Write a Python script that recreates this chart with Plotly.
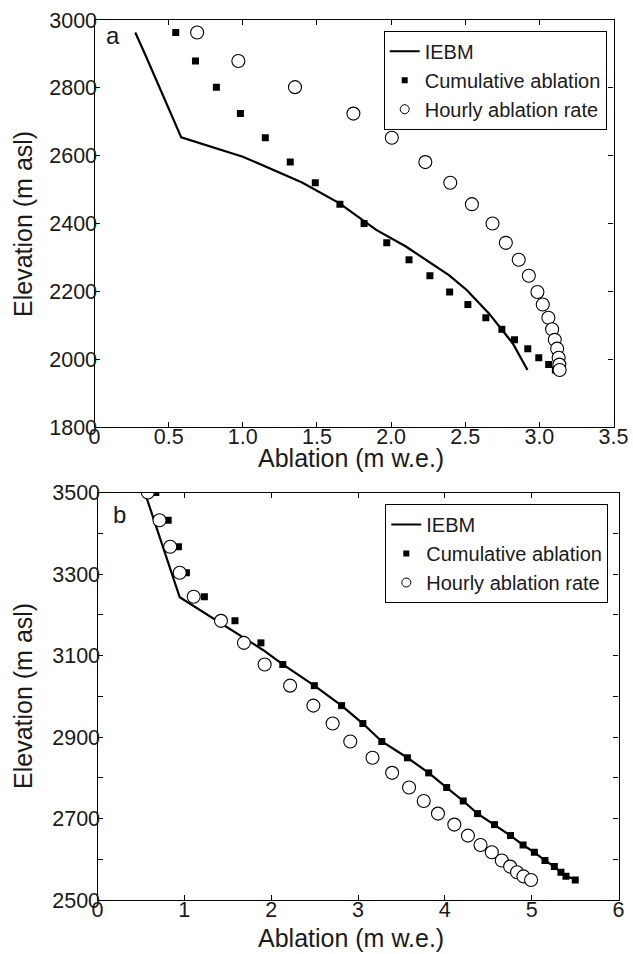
import plotly.graph_objects as go

# ---------------- Data ----------------
# Panel a
elev_a = [2963, 2879, 2802, 2724, 2653, 2581, 2520, 2457, 2400, 2343, 2293,
          2246, 2198, 2161, 2122, 2088, 2057, 2031, 2004, 1984, 1968]
cum_a = [0.548, 0.681, 0.822, 0.984, 1.152, 1.320, 1.489, 1.655, 1.818, 1.971, 2.121,
         2.262, 2.395, 2.518, 2.639, 2.747, 2.832, 2.922, 2.996, 3.063, 3.108]
hourly_a = [0.692, 0.970, 1.352, 1.746, 2.005, 2.231, 2.399, 2.545, 2.684, 2.774, 2.861,
            2.929, 2.987, 3.023, 3.061, 3.086, 3.104, 3.120, 3.130, 3.135, 3.137]
iebm_a_x = [0.275, 0.338, 0.585, 1.00, 1.40, 1.65, 1.90, 2.10, 2.39, 2.51, 2.66, 2.82, 2.92]
iebm_a_elev = [2963, 2902, 2654, 2597, 2521, 2460, 2381, 2332, 2248, 2204, 2135, 2047, 1968]

# Panel b
elev_b = [3500, 3432, 3367, 3303, 3244, 3185, 3131, 3078, 3026, 2977, 2933, 2889, 2849,
          2812, 2776, 2743, 2712, 2685, 2658, 2635, 2617, 2597, 2582, 2568, 2558, 2549]
cum_b = [0.672, 0.814, 0.932, 1.024, 1.231, 1.583, 1.882, 2.134, 2.497, 2.811, 3.056, 3.274, 3.569,
         3.814, 4.021, 4.212, 4.377, 4.572, 4.756, 4.901, 5.031, 5.153, 5.261, 5.337, 5.395, 5.502]
hourly_b = [0.580, 0.714, 0.837, 0.947, 1.108, 1.422, 1.686, 1.925, 2.218, 2.486, 2.708, 2.911, 3.167,
            3.393, 3.588, 3.757, 3.921, 4.109, 4.266, 4.411, 4.541, 4.656, 4.752, 4.832, 4.905, 4.993]
iebm_b_x = [0.545, 0.947, 1.91, 2.134, 2.497, 2.811, 3.056, 3.274, 3.569, 3.814, 4.021,
            4.212, 4.377, 4.572, 4.756, 4.901, 5.031, 5.153, 5.261, 5.337, 5.395, 5.528]
iebm_b_elev = [3500, 3243, 3113, 3078, 3026, 2977, 2933, 2889, 2849, 2812, 2776,
               2743, 2712, 2685, 2658, 2635, 2617, 2597, 2582, 2568, 2558, 2549]

series_names = ["IEBM", "Cumulative ablation", "Hourly ablation rate"]
x_title = "Ablation (m w.e.)"
y_title = "Elevation (m asl)"
panel_labels = ["a", "b"]

xt_a_vals = [0, 0.5, 1.0, 1.5, 2.0, 2.5, 3.0, 3.5]
xt_a_text = ["0", "0.5", "1.0", "1.5", "2.0", "2.5", "3.0", "3.5"]
yt_a_vals = [1800, 2000, 2200, 2400, 2600, 2800, 3000]
xt_b_vals = [0, 1, 2, 3, 4, 5, 6]
yt_b_vals = list(range(2500, 3501, 100))
yt_b_text = [str(v) if (v - 2500) % 200 == 0 else "" for v in yt_b_vals]

# ---------------- Figure ----------------
W, H = 633, 954
FONT = "Liberation Sans, Arial, Helvetica, sans-serif"
TXT = "#1a1a1a"

fig = go.Figure()

def add_panel(xs_line, ys_line, cum, hourly, elev, xa, ya, leg):
    fig.add_trace(go.Scatter(x=xs_line, y=ys_line, mode="lines",
                             line=dict(color="black", width=2.2),
                             xaxis=xa, yaxis=ya, showlegend=False, name=series_names[0]))
    fig.add_trace(go.Scatter(x=cum, y=elev, mode="markers",
                             marker=dict(symbol="square", size=7, color="black"),
                             xaxis=xa, yaxis=ya, showlegend=False, name=series_names[1]))
    fig.add_trace(go.Scatter(x=hourly, y=elev, mode="markers",
                             marker=dict(symbol="circle", size=13, color="white",
                                         line=dict(color="black", width=1.1)),
                             xaxis=xa, yaxis=ya, showlegend=False, name=series_names[2]))
    # legend entries (smaller legend symbols, as in the reference)
    fig.add_trace(go.Scatter(x=[None], y=[None], mode="lines",
                             line=dict(color="black", width=2), name=series_names[0],
                             xaxis=xa, yaxis=ya, legend=leg))
    fig.add_trace(go.Scatter(x=[None], y=[None], mode="markers",
                             marker=dict(symbol="square", size=6, color="black"),
                             name=series_names[1], xaxis=xa, yaxis=ya, legend=leg))
    fig.add_trace(go.Scatter(x=[None], y=[None], mode="markers",
                             marker=dict(symbol="circle", size=9, color="white",
                                         line=dict(color="black", width=1)),
                             name=series_names[2], xaxis=xa, yaxis=ya, legend=leg))

add_panel(iebm_a_x, iebm_a_elev, cum_a, hourly_a, elev_a, "x", "y", "legend")
add_panel(iebm_b_x, iebm_b_elev, cum_b, hourly_b, elev_b, "x2", "y2", "legend2")

axis_common = dict(showline=True, linecolor="black", linewidth=1.2, mirror="ticks",
                   ticks="inside", ticklen=5, tickwidth=1, tickcolor="black",
                   showgrid=False, zeroline=False,
                   tickfont=dict(family=FONT, size=21.5, color=TXT),
                   automargin=False)
x_common = dict(axis_common, ticklabelstandoff=-10)
y_common = dict(axis_common, ticklabelstandoff=-8)

legend_common = dict(font=dict(family=FONT, size=20, color=TXT),
                     bordercolor="black", borderwidth=1, bgcolor="white",
                     xanchor="right", yanchor="top", tracegroupgap=0)

def ann(text, x, y, angle=0, size=25):
    return dict(text=text, xref="paper", yref="paper", x=x / W, y=1 - y / H,
                showarrow=False, textangle=angle,
                font=dict(family=FONT, size=size, color=TXT),
                xanchor="center", yanchor="middle")

fig.update_layout(
    width=W, height=H,
    margin=dict(l=0, r=0, t=0, b=0),
    paper_bgcolor="white", plot_bgcolor="white",
    xaxis=dict(x_common, domain=[94.5 / W, 613.5 / W], range=[0, 3.5],
               tickvals=xt_a_vals, ticktext=xt_a_text, anchor="y"),
    yaxis=dict(y_common, domain=[1 - 427 / H, 1 - 20 / H], range=[1800, 3000],
               tickvals=yt_a_vals, anchor="x"),
    xaxis2=dict(x_common, domain=[97.5 / W, 618.5 / W], range=[0, 6],
                tickvals=xt_b_vals, anchor="y2"),
    yaxis2=dict(y_common, domain=[1 - 900 / H, 1 - 492.5 / H], range=[2500, 3500],
                tickvals=yt_b_vals, ticktext=yt_b_text, anchor="x2"),
    legend=dict(legend_common, x=606.7 / W, y=1 - 30.7 / H),
    legend2=dict(legend_common, x=608.3 / W, y=1 - 504 / H),
    annotations=[
        ann(x_title, 351, 458),
        ann(x_title, 351, 938),
        ann(y_title, 23, 224, angle=-90),
        ann(y_title, 23, 696, angle=-90),
        ann(panel_labels[0], 113, 36, size=24),
        ann(panel_labels[1], 119, 514, size=24),
    ],
)

fig.write_html(
    "out.html",
    config={"displayModeBar": False},
    post_script="document.body.style.margin='0';document.body.style.overflow='hidden';",
)
